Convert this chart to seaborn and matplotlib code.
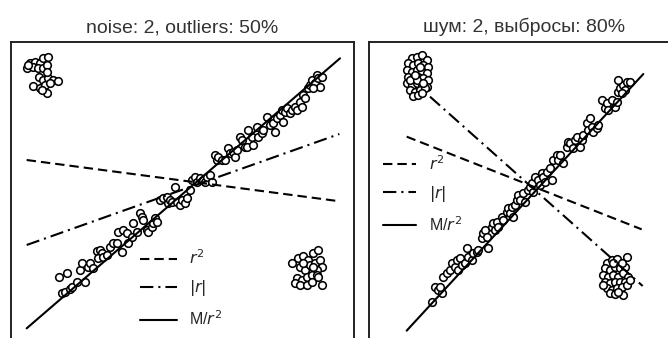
import matplotlib
matplotlib.use("Agg")
import matplotlib.pyplot as plt
import numpy as np
import pandas as pd
import seaborn as sns

# ---------------- left panel: noise 2, outliers 50% ----------------
left_title = "noise: 2, outliers: 50%"

left_line_x = [1.85, 1.95, 2.10, 2.15, 1.78, 2.00, 2.30, 2.40, 2.55, 2.45, 2.65, 2.70, 2.80,
               2.90, 3.00, 3.05, 2.95, 3.10, 3.20, 3.30, 3.40, 3.50, 3.55, 3.65, 3.70, 3.80,
               3.85, 3.95, 4.00, 4.10, 4.20, 4.25, 4.30, 4.40, 4.45, 4.55, 4.60, 4.65, 4.70,
               4.80, 4.90, 5.00, 5.05, 5.10, 5.15, 5.25, 5.30, 5.40, 5.45, 5.55, 5.60, 5.70,
               5.75, 5.85, 5.90, 6.00, 6.10, 6.15, 6.20, 6.30, 6.35, 6.45, 6.50, 6.55, 6.65,
               6.75, 6.85, 6.90, 7.00, 7.05, 7.10, 7.20, 7.25, 7.35, 7.40, 7.45, 7.55, 7.60,
               7.70, 7.75, 7.85, 7.90, 8.00, 8.10, 8.20, 8.25, 8.30, 8.40, 8.45, 8.50, 8.55,
               8.60, 8.70, 8.75, 8.85, 8.90, 9.00, 9.05, 9.10, 9.15, 9.25, 9.30, 9.35, 9.45,
               9.50, 9.55, 9.60, 9.65, 9.40]
left_line_y = [1.20, 1.25, 1.32, 1.38, 1.70, 1.80, 1.55, 1.90, 1.55, 2.10, 2.00, 2.10, 1.95,
               2.48, 2.50, 2.40, 2.25, 2.30, 2.35, 2.60, 2.70, 2.70, 3.05, 2.45, 3.10, 3.00,
               2.70, 2.90, 3.30, 3.05, 3.60, 3.50, 3.40, 3.10, 3.05, 3.20, 3.30, 3.45, 3.35,
               4.00, 4.05, 4.10, 3.90, 4.00, 3.95, 4.40, 3.95, 3.85, 4.00, 3.90, 4.05, 4.30,
               4.60, 4.70, 4.55, 4.65, 4.60, 4.55, 4.70, 4.75, 4.55, 5.35, 5.20, 5.30, 5.20,
               5.20, 5.55, 5.40, 5.45, 5.30, 5.50, 5.90, 5.80, 5.60, 5.60, 6.10, 5.90, 5.65,
               6.20, 5.90, 6.00, 6.10, 6.50, 6.25, 6.30, 6.05, 6.45, 6.55, 6.70, 6.35, 6.65,
               6.75, 6.60, 6.70, 6.80, 6.70, 6.95, 6.80, 7.15, 7.05, 7.35, 7.45, 7.60, 7.50,
               7.75, 7.65, 7.40, 7.70, 7.35]

left_out_a_x = [0.80, 0.90, 1.05, 1.20, 1.30, 1.45, 1.00, 1.15, 1.30, 1.40, 1.18, 1.30,
                1.45, 1.60, 1.75, 0.98, 1.20, 1.35, 1.40, 1.25, 1.50, 1.40, 0.85]
left_out_a_y = [7.95, 8.10, 8.15, 8.10, 8.25, 8.30, 8.00, 7.95, 7.95, 8.05, 7.70, 7.60,
                7.65, 7.60, 7.57, 7.42, 7.35, 7.45, 7.20, 7.30, 7.50, 7.85, 8.05]

left_out_b_x = [8.75, 8.93, 9.10, 9.25, 9.40, 9.55, 9.00, 9.15, 9.30, 9.45, 9.60, 9.65, 9.50,
                8.90, 9.05, 9.20, 9.35, 9.50, 8.85, 9.00, 9.20, 9.35, 9.55, 9.65, 9.10, 9.40]
left_out_b_y = [2.10, 2.25, 2.32, 2.20, 2.40, 2.50, 2.00, 1.90, 2.05, 2.10, 2.20, 2.00, 1.90,
                1.65, 1.60, 1.70, 1.75, 1.75, 1.50, 1.45, 1.45, 1.55, 1.70, 1.45, 2.10, 2.00]

# fitted lines, given by their two end points (x0, x1), (y0, y1)
left_fit_x = {"r2": [0.80, 10.20], "absr": [0.80, 10.18], "m": [0.80, 10.20]}
left_fit_y = {"r2": [5.20, 3.96], "absr": [2.65, 5.98], "m": [0.15, 8.25]}

# ---------------- right panel: noise 2, outliers 80% ----------------
right_title = "шум: 2, выбросы: 80%"

right_line_x = [2.15, 2.25, 2.35, 2.45, 2.40, 2.50, 2.60, 2.70, 2.75, 2.85, 2.90, 3.00, 2.95,
                3.05, 3.15, 3.20, 3.25, 3.35, 3.40, 3.50, 3.55, 3.65, 3.70, 3.75, 3.85, 3.80,
                3.95, 4.00, 4.05, 4.10, 4.15, 4.25, 4.30, 4.40, 4.45, 4.50, 4.55, 4.60, 4.65,
                4.70, 4.75, 4.80, 4.90, 4.95, 5.05, 5.10, 5.15, 5.20, 5.25, 5.35, 5.40, 5.45,
                5.50, 5.55, 5.60, 5.70, 5.75, 5.80, 5.90, 5.95, 6.00, 6.10, 6.20, 6.25, 6.30,
                6.40, 6.45, 6.50, 6.60, 6.65, 6.70, 6.80, 6.85, 6.90, 6.95, 7.00, 7.10, 7.15,
                7.25, 7.35, 7.40, 7.45, 7.55, 7.65, 7.70, 7.75, 7.80, 7.90, 8.00, 8.10, 7.95,
                7.85, 7.75]
right_line_y = [0.95, 1.40, 1.30, 1.20, 1.40, 1.70, 1.80, 1.90, 2.10, 2.00, 2.20, 2.25, 1.90,
                2.05, 2.10, 2.55, 2.30, 2.20, 2.40, 2.45, 2.50, 2.85, 3.00, 3.10, 2.55, 2.90,
                3.20, 3.30, 3.10, 3.35, 3.20, 3.50, 3.40, 3.65, 3.75, 3.60, 3.80, 3.50, 3.85,
                4.00, 4.15, 4.00, 4.20, 3.95, 4.30, 4.40, 4.50, 4.25, 4.70, 4.60, 4.45, 4.80,
                4.70, 4.55, 4.85, 4.95, 4.60, 5.20, 5.35, 5.20, 5.35, 5.10, 5.60, 5.75, 5.70,
                5.55, 5.80, 5.90, 5.60, 5.80, 5.95, 6.30, 6.10, 6.45, 6.20, 6.05, 6.15, 6.25,
                7.00, 6.75, 6.90, 6.70, 7.00, 6.80, 6.95, 7.25, 7.35, 7.45, 7.55, 7.55, 7.30,
                7.20, 7.60]

right_out_a_x = [1.55, 1.70, 1.85, 2.00, 1.45, 1.60, 1.75, 1.90, 2.05, 1.40, 1.55, 1.70,
                 1.85, 2.00, 1.45, 1.60, 1.75, 1.90, 2.05, 1.40, 1.55, 1.70, 1.85, 2.00,
                 1.50, 1.65, 1.80, 1.95, 1.60, 1.75, 1.85, 1.50, 1.70, 1.90, 1.65, 1.80]
right_out_a_y = [8.25, 8.30, 8.35, 8.20, 8.10, 8.05, 8.12, 8.05, 8.00, 7.90, 7.85, 7.90,
                 7.85, 7.80, 7.70, 7.65, 7.70, 7.65, 7.60, 7.50, 7.45, 7.50, 7.45, 7.40,
                 7.30, 7.25, 7.30, 7.35, 7.12, 7.15, 7.20, 7.60, 7.60, 7.50, 7.75, 8.00]

right_out_b_x = [7.40, 7.55, 7.70, 8.00, 7.35, 7.50, 7.65, 7.80, 7.95, 7.30, 7.45, 7.60,
                 7.75, 7.90, 8.05, 7.35, 7.50, 7.65, 7.80, 7.95, 7.40, 7.55, 7.70, 7.85,
                 8.00, 7.50, 7.65, 7.90, 7.75, 7.30, 8.10, 7.60, 7.85]
right_out_b_y = [2.10, 2.20, 2.22, 2.28, 1.95, 1.90, 2.00, 1.95, 2.00, 1.75, 1.70, 1.75,
                 1.70, 1.80, 1.70, 1.55, 1.50, 1.55, 1.55, 1.55, 1.35, 1.30, 1.35, 1.40,
                 1.45, 1.20, 1.18, 1.15, 1.25, 1.45, 1.60, 2.10, 2.10]

right_fit_x = {"r2": [1.40, 8.45], "absr": [2.10, 8.48], "m": [1.40, 8.50]}
right_fit_y = {"r2": [5.90, 3.12], "absr": [7.10, 1.42], "m": [0.08, 7.78]}

fit_labels = {"r2": "$r^2$", "absr": "$|r|$", "m": "M/$r^2$"}
fit_styles = {"r2": (0, (4.5, 2.4)), "absr": (0, (6.4, 2.4, 1.0, 2.4)), "m": "-"}

sns.set_theme(style="white", context="notebook")
plt.rcParams["font.family"] = ["Liberation Sans", "DejaVu Sans"]

W, H = 668, 338
fig = plt.figure(figsize=(W / 100, H / 100), dpi=100)


def px_axes(left, top, width, height):
    return fig.add_axes([left / W, (H - top - height) / H, width / W, height / H])


def draw_panel(ax, title, line_x, line_y, out_a, out_b, fit_x, fit_y, xlim, ylim):
    pts = pd.DataFrame({
        "x": list(line_x) + list(out_a[0]) + list(out_b[0]),
        "y": list(line_y) + list(out_a[1]) + list(out_b[1]),
    })
    sns.scatterplot(data=pts, x="x", y="y", ax=ax, s=30, facecolor="white",
                    edgecolor="black", linewidth=1.15, zorder=2, legend=False)
    for key in ["r2", "absr", "m"]:
        ax.plot(fit_x[key], fit_y[key], color="black", ls=fit_styles[key], lw=1.5,
                label=fit_labels[key], zorder=3)
    ax.set_xlim(*xlim)
    ax.set_ylim(*ylim)
    ax.set_xticks([])
    ax.set_yticks([])
    ax.set_xlabel("")
    ax.set_ylabel("")
    for sp in ax.spines.values():
        sp.set_color("#222222")
        sp.set_linewidth(1.4)
    ax.set_title(title, fontsize=14, color="#333333", pad=7)


ax1 = px_axes(11, 42, 343, 343)
draw_panel(ax1, left_title, left_line_x, left_line_y,
           (left_out_a_x, left_out_a_y), (left_out_b_x, left_out_b_y),
           left_fit_x, left_fit_y, (0.33, 10.62), (-1.55, 8.74))
ax1.legend(loc="upper left", bbox_to_anchor=(0.376, 0.398), frameon=False,
           fontsize=11.5, handlelength=2.3, borderpad=0, borderaxespad=0,
           labelspacing=0.7, handletextpad=0.8)

ax2 = px_axes(369, 42, 310, 343)
draw_panel(ax2, right_title, right_line_x, right_line_y,
           (right_out_a_x, right_out_a_y), (right_out_b_x, right_out_b_y),
           right_fit_x, right_fit_y, (0.27, 9.57), (-1.55, 8.74))
ax2.legend(loc="upper left", bbox_to_anchor=(0.045, 0.673), frameon=False,
           fontsize=11.5, handlelength=2.1, borderpad=0, borderaxespad=0,
           labelspacing=0.7, handletextpad=0.8)

fig.savefig("out.png", dpi=100)
